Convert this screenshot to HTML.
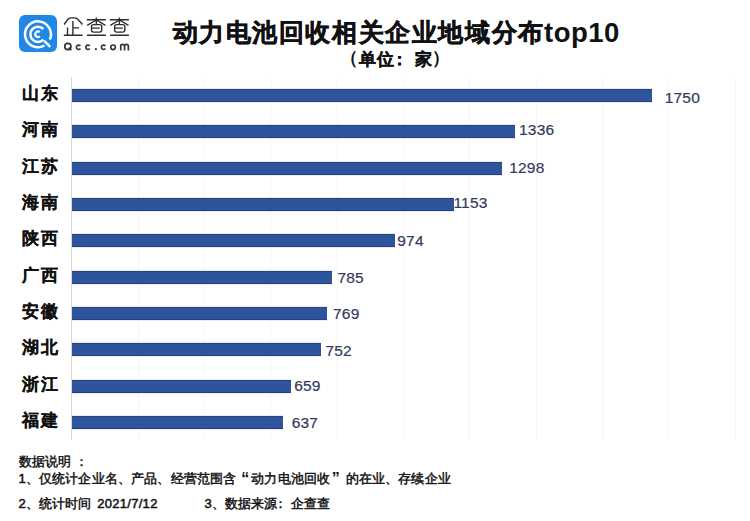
<!DOCTYPE html>
<html><head><meta charset="utf-8">
<style>
html,body{margin:0;padding:0;}
body{width:750px;height:521px;position:relative;overflow:hidden;background:#fff;font-family:"Liberation Sans",sans-serif;}
.a{position:absolute;white-space:nowrap;}
.logo{left:19px;top:15px;width:38px;height:37px;border-radius:6px;background:#1f88e5;}
.title{font-weight:bold;color:#111;-webkit-text-stroke:0.5px #111;}
.sub{font-size:17px;line-height:22px;font-weight:bold;color:#111;-webkit-text-stroke:0.3px #111;}
.grid{top:77px;height:363px;width:1px;background:#f5f5f5;}
.axis{left:71px;top:77px;height:363px;width:1px;background:#d6d6d6;}
.bar{left:72px;height:13px;background:#2e549d;box-shadow:inset 0 1px 0 #2a4573,inset 0 -1px 0 #29407a,0 -1px 0 #e6ecf4,0 1px 0 #e6ecf4;}
.val{font-size:15.5px;line-height:18px;color:#333a5c;letter-spacing:0.2px;-webkit-text-stroke:0.2px #333a5c;}
.cat{right:690px;font-size:17px;line-height:20px;font-weight:bold;color:#111;letter-spacing:2px;-webkit-text-stroke:0.2px #111;}
.foot{font-size:13px;letter-spacing:0.15px;line-height:16px;font-weight:normal;color:#111;-webkit-text-stroke:0.45px #111;}
.dg{font-weight:normal;-webkit-text-stroke:0.5px #111;}
</style></head><body>

<div class="a logo"><svg width="38" height="37" viewBox="0 0 38 37" style="position:absolute;left:0;top:0"><g fill="none" stroke="#fff" stroke-linecap="butt"><path stroke-width="2.5" d="M25.48 30.52 A12.95 12.95 0 1 1 30.83 24.57"/><path stroke-width="2.5" d="M24.37 24.67 A7.6 7.6 0 1 1 24.37 13.93"/><path stroke-width="2.2" d="M20.74 21.37 A2.7 2.7 0 1 1 20.74 17.23"/><path stroke-width="2.5" d="M25.14 25.88 L31.23 31.96"/></g></svg></div>
<svg width="750" height="60" viewBox="0 0 750 60" style="position:absolute;left:0;top:0"><g fill="none" stroke="#2e2e2e" stroke-width="1.4" stroke-linecap="butt" stroke-linejoin="round"><path d="M64.1 24.5 L67.4 19.8 Q68.9 17.9 71.2 17.9 L74.6 17.9 Q76.8 17.9 78.3 19.7 L82.5 24.5 M72.9 21.1 V35.3 M72.9 27.9 H79.1 M67.5 27.6 V35.3 M63.8 35.3 H82.6"/><path d="M86.7 19.8 H105.8 M96.3 17.4 V24.1 M96.3 20.0 L87.2 25.3 M96.3 20.0 L105.4 25.3 M91.5 28.1 H99.8 M87 35.3 H105.8"/><rect x="91.5" y="24.6" width="10.2" height="7.5" rx="2"/><path d="M109.80000000000001 19.8 H128.9 M119.4 17.4 V24.1 M119.4 20.0 L110.30000000000001 25.3 M119.4 20.0 L128.5 25.3 M114.6 28.1 H122.9 M110.1 35.3 H128.9"/><rect x="114.6" y="24.6" width="10.2" height="7.5" rx="2"/></g></svg>
<svg width="750" height="60" viewBox="0 0 750 60" style="position:absolute;left:0;top:0"><g fill="none" stroke="#333" stroke-width="1.65"><circle cx="67.85" cy="46.5" r="3.1"/><path stroke-width="1.8" d="M68.6 47.6 L71.2 50.1"/><path d="M80.40 48.56 A2.2 2.2 0 1 1 80.40 46.04"/><path d="M89.80 48.56 A2.2 2.2 0 1 1 89.80 46.04"/><path d="M105.40 48.56 A2.2 2.2 0 1 1 105.40 46.04"/><circle cx="113.05" cy="47.3" r="2.3"/><path d="M120.72 50.4 V44.4 M120.72 46.5 Q120.72 44.3 122.6 44.3 Q124.55 44.3 124.55 46.5 V50.4 M124.55 46.5 Q124.55 44.3 126.45 44.3 Q128.38 44.3 128.38 46.5 V50.4"/></g><circle cx="95.9" cy="49.1" r="1.1" fill="#333"/></svg>
<div class="a title" style="left:172.5px;top:16.5px;font-size:25px;line-height:30px;letter-spacing:1.6px">动力电池回收相关企业地域分布</div>
<div class="a title" style="left:544px;top:16.5px;font-size:27.5px;line-height:32px;letter-spacing:0.5px;-webkit-text-stroke:0">top10</div>
<div class="a sub" style="left:339.9px;top:47px;width:18px;text-align:center;font-size:18px;-webkit-text-stroke:0;">（</div>
<div class="a sub" style="left:358.0px;top:48.5px;width:18px;text-align:center;">单</div>
<div class="a sub" style="left:376.0px;top:48.5px;width:18px;text-align:center;">位</div>
<div class="a sub" style="left:390.7px;top:48.5px;width:18px;text-align:center;">：</div>
<div class="a sub" style="left:414.0px;top:48.5px;width:18px;text-align:center;">家</div>
<div class="a sub" style="left:431.8px;top:47px;width:18px;text-align:center;font-size:18px;-webkit-text-stroke:0;">）</div>
<div class="a grid" style="left:137.5px"></div>
<div class="a grid" style="left:203.9px"></div>
<div class="a grid" style="left:270.2px"></div>
<div class="a grid" style="left:336.5px"></div>
<div class="a grid" style="left:402.8px"></div>
<div class="a grid" style="left:469.2px"></div>
<div class="a grid" style="left:535.5px"></div>
<div class="a grid" style="left:601.8px"></div>
<div class="a grid" style="left:668.2px"></div>
<div class="a grid" style="left:734.5px"></div>
<div class="a axis"></div>
<div class="a bar" style="top:89.00px;width:580.3px"></div>
<div class="a val" style="left:664.7px;top:88.5px">1750</div>
<div class="a cat" style="top:84.0px">山东</div>
<div class="a bar" style="top:125.33px;width:443.0px"></div>
<div class="a val" style="left:519.0px;top:121.2px">1336</div>
<div class="a cat" style="top:120.3px">河南</div>
<div class="a bar" style="top:161.66px;width:430.4px"></div>
<div class="a val" style="left:509.2px;top:158.7px">1298</div>
<div class="a cat" style="top:156.7px">江苏</div>
<div class="a bar" style="top:197.99px;width:382.3px"></div>
<div class="a val" style="left:453.4px;top:194.4px">1153</div>
<div class="a cat" style="top:193.0px">海南</div>
<div class="a bar" style="top:234.32px;width:323.0px"></div>
<div class="a val" style="left:397.3px;top:232.4px">974</div>
<div class="a cat" style="top:229.3px">陕西</div>
<div class="a bar" style="top:270.65px;width:260.3px"></div>
<div class="a val" style="left:337.4px;top:269.2px">785</div>
<div class="a cat" style="top:265.6px">广西</div>
<div class="a bar" style="top:306.98px;width:255.0px"></div>
<div class="a val" style="left:333.0px;top:304.6px">769</div>
<div class="a cat" style="top:302.0px">安徽</div>
<div class="a bar" style="top:343.31px;width:249.4px"></div>
<div class="a val" style="left:325.4px;top:342.0px">752</div>
<div class="a cat" style="top:338.3px">湖北</div>
<div class="a bar" style="top:379.64px;width:218.5px"></div>
<div class="a val" style="left:294.2px;top:377.1px">659</div>
<div class="a cat" style="top:374.6px">浙江</div>
<div class="a bar" style="top:415.97px;width:211.2px"></div>
<div class="a val" style="left:291.7px;top:413.9px">637</div>
<div class="a cat" style="top:411.0px">福建</div>
<div class="a foot" style="left:19px;top:453.5px">数据说明 ：</div>
<div class="a foot" style="left:18.5px;top:471px"><span class="dg">1</span>、仅统计企业名、产品、经营范围含<span style="display:inline-block;width:15px;text-align:right;padding-right:2px;box-sizing:border-box;font-size:16px;line-height:13px;vertical-align:top;margin-top:1px;font-weight:bold;-webkit-text-stroke:0">“</span>动力电池回收<span style="display:inline-block;width:15.5px;text-align:left;padding-left:1.5px;box-sizing:border-box;font-size:16px;line-height:13px;vertical-align:top;margin-top:1px;font-weight:bold;-webkit-text-stroke:0">”</span>的在业、存续企业</div>
<div class="a foot" style="left:18.5px;top:496px"><span class="dg">2</span>、统计时间<span style="display:inline-block;width:5.5px"></span><span class="dg" style="letter-spacing:0.3px">2021/7/12</span></div>
<div class="a foot" style="left:204.5px;top:496px"><span class="dg">3</span>、数据来源<span style="position:relative;left:-4px">：</span>企查查</div>
</body></html>
